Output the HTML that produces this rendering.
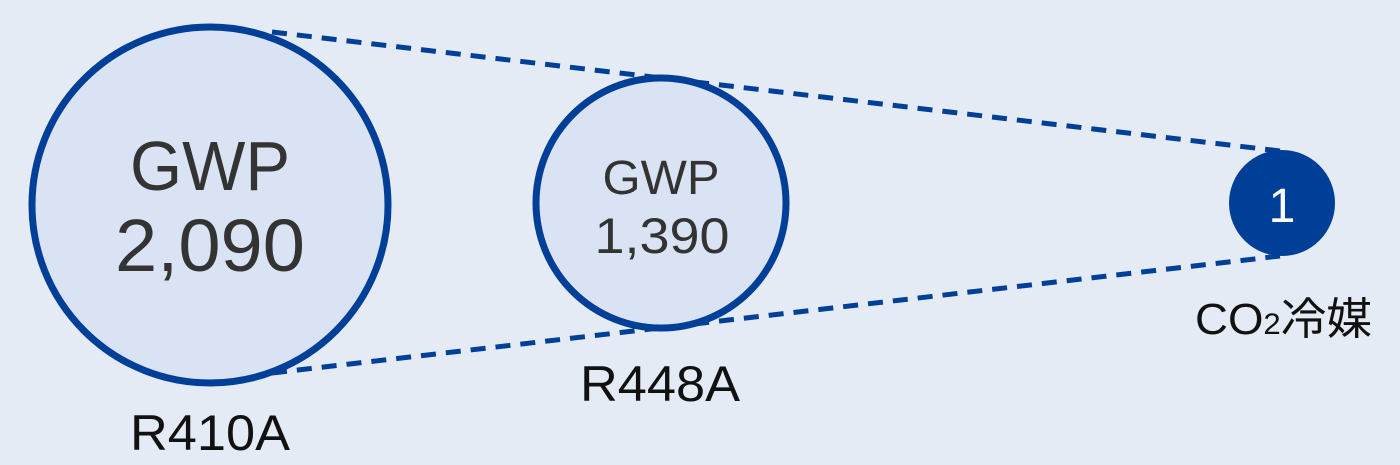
<!DOCTYPE html>
<html><head><meta charset="utf-8"><style>
html,body{margin:0;padding:0;background:#e4ebf5;}
svg text{font-family:"Liberation Sans","Noto Sans CJK JP",sans-serif;}
</style></head><body>
<svg width="1400" height="460" viewBox="0 0 1400 460" xmlns="http://www.w3.org/2000/svg">
<rect width="1400" height="460" fill="#e4ebf5"/>
<g stroke="#003f98" stroke-width="5" stroke-dasharray="15 10" fill="none">
<line x1="272" y1="32" x2="1280" y2="151"/>
<line x1="272" y1="373" x2="1280" y2="256"/>
</g>
<circle cx="210" cy="205" r="178" fill="#d9e3f4" stroke="#003f98" stroke-width="7"/>
<circle cx="661" cy="203" r="125" fill="#d9e3f4" stroke="#003f98" stroke-width="7"/>
<circle cx="1282" cy="203" r="53" fill="#003f98"/>
<g fill="#333" text-anchor="middle">
<text x="210" y="190" font-size="70" textLength="160" lengthAdjust="spacingAndGlyphs">GWP</text>
<text x="210" y="271" font-size="74" textLength="190" lengthAdjust="spacingAndGlyphs">2,090</text>
<text x="661" y="194" font-size="48" textLength="117" lengthAdjust="spacingAndGlyphs">GWP</text>
<text x="662" y="253" font-size="50" textLength="135" lengthAdjust="spacingAndGlyphs">1,390</text>
</g>
<text x="1282" y="222" font-size="48" fill="#fff" text-anchor="middle">1</text>
<g fill="#111" font-size="50" text-anchor="middle">
<text x="210" y="450" textLength="160" lengthAdjust="spacingAndGlyphs">R410A</text>
<text x="660" y="401" textLength="160" lengthAdjust="spacingAndGlyphs">R448A</text>
</g>
<text x="1195" y="334" font-size="44" fill="#111" textLength="177" lengthAdjust="spacingAndGlyphs">CO<tspan font-size="30">2</tspan>冷媒</text>
</svg>
</body></html>
